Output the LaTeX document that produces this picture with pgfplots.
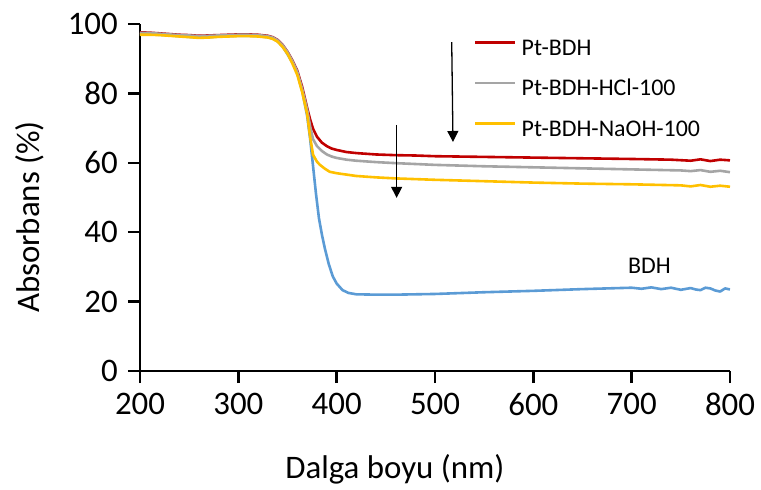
\documentclass[border=0pt]{standalone}
\usepackage{fontspec}
\setmainfont{Carlito}
\usepackage{pgfplots}
\pgfplotsset{compat=1.18}
\usetikzlibrary{arrows.meta}
\definecolor{cred}{HTML}{C00000}
\definecolor{cgray}{HTML}{A5A5A5}
\definecolor{cyel}{HTML}{FFC000}
\definecolor{cblue}{HTML}{5B9BD5}
\begin{document}
\begin{tikzpicture}
\begin{axis}[name=ax, at={(0,0)}, anchor=south west,
  scale only axis, width=590bp, height=347bp,
  xmin=200, xmax=800, ymin=0, ymax=100,
  xtick={200,300,...,800}, ytick={0,20,...,100},
  axis x line*=bottom, axis y line*=left,
  axis line style={line width=2.5bp, black},
  tick style={line width=2.5bp, black},
  major tick length=12bp, tick align=outside,
  /pgf/number format/assume math mode=true,
  tick label style={font=\fontsize{33}{40}\selectfont},
  xticklabel style={inner sep=0pt, anchor=north, yshift=-10bp},
  yticklabel style={inner sep=0pt, anchor=east, xshift=-10bp},
  xlabel={Dalga boyu (nm)}, ylabel={Absorbans (\%)},
  label style={font=\fontsize{33}{40}\selectfont},
  xlabel style={at={(axis description cs:0.432,-0.311)}, anchor=base, inner sep=0pt},
  ylabel style={at={(axis description cs:-0.17,0.444)}, anchor=base, inner sep=0pt},
  legend style={at={(axis description cs:0.566,0.957)}, anchor=north west,
    draw=none, fill=none, inner sep=0pt, row sep=19.5bp, column sep=5bp,
    font=\fontsize{24}{28}\selectfont,
    nodes={inner sep=0pt, text height=16bp, text depth=5bp}},
  legend image code/.code={\draw[#1] (0bp,7bp) -- (40bp,7bp);},
  legend cell align=left,
  every axis plot/.append style={line width=2.6bp, line join=round},
]
% BDH (drawn first, underneath)
\addplot[cblue, forget plot] coordinates {
(200,97.0)(210,97.0)(220,96.9)(230,96.7)(240,96.5)(250,96.3)(260,96.1)(270,96.2)(280,96.4)(290,96.5)(300,96.6)(310,96.6)(320,96.5)(330,96.2)(335,95.8)(340,95.0)(345,93.5)(350,91.3)(355,88.9)(360,85.8)(365,80.6)(370,73.5)(373,67.0)(376,59.0)(379,51.0)(382,44.0)(385,39.3)(388,35.3)(392,30.8)(396,27.3)(400,25.2)(406,23.3)(412,22.5)(420,22.1)(440,22.0)(460,22.0)(500,22.2)(550,22.7)(600,23.1)(650,23.6)(700,24.0)(710,23.7)(720,24.1)(730,23.6)(740,24.0)(750,23.4)(760,23.9)(765,23.5)(770,23.3)(775,24.0)(780,23.8)(785,23.2)(790,22.9)(795,23.8)(800,23.5)};
% Pt-BDH
\addplot[cred] coordinates {
(200,97.6)(210,97.5)(220,97.3)(230,97.1)(240,96.9)(250,96.8)(260,96.6)(270,96.7)(280,96.8)(290,96.9)(300,97.0)(310,97.0)(320,96.9)(330,96.6)(335,96.2)(340,95.4)(345,94.0)(350,92.0)(355,89.5)(360,86.5)(365,81.8)(370,75.8)(373,72.5)(376,69.8)(380,67.5)(385,65.8)(390,64.8)(395,64.1)(400,63.7)(410,63.1)(420,62.8)(440,62.4)(460,62.2)(480,62.1)(500,61.9)(550,61.7)(600,61.5)(650,61.3)(700,61.1)(720,61.0)(740,60.9)(760,60.6)(770,61.0)(780,60.5)(790,60.9)(800,60.7)};
% Pt-BDH-HCl-100
\addplot[cgray] coordinates {
(200,97.4)(210,97.4)(220,97.2)(230,97.0)(240,96.8)(250,96.7)(260,96.5)(270,96.6)(280,96.7)(290,96.8)(300,96.9)(310,96.9)(320,96.8)(330,96.5)(335,96.1)(340,95.3)(345,93.9)(350,91.9)(355,89.3)(360,86.2)(365,81.2)(370,75.3)(373,70.5)(376,66.8)(380,64.8)(385,63.4)(390,62.4)(395,61.8)(400,61.4)(410,60.9)(420,60.6)(440,60.2)(460,59.9)(500,59.4)(550,59.0)(600,58.7)(650,58.4)(700,58.1)(750,57.8)(760,57.6)(770,57.9)(780,57.4)(790,57.7)(800,57.3)};
% Pt-BDH-NaOH-100
\addplot[cyel] coordinates {
(200,96.9)(210,96.9)(220,96.8)(230,96.6)(240,96.4)(250,96.2)(260,96.0)(270,96.1)(280,96.3)(290,96.4)(300,96.5)(310,96.5)(320,96.4)(330,96.1)(335,95.7)(340,94.9)(345,93.4)(350,91.4)(355,88.6)(360,85.3)(365,80.3)(370,74.0)(373,67.5)(376,62.3)(380,60.3)(383,59.4)(388,58.3)(393,57.4)(400,57.0)(410,56.6)(420,56.2)(440,55.8)(460,55.5)(500,55.1)(550,54.7)(600,54.3)(650,54.0)(700,53.8)(750,53.5)(760,53.2)(770,53.6)(780,53.1)(790,53.4)(800,53.1)};
\legend{Pt-BDH, Pt-BDH-HCl-100, Pt-BDH-NaOH-100}
\draw[line width=1.3bp, -{Triangle[width=11bp,length=11bp]}] (axis cs:517,94.8) -- (axis cs:518.3,66);
\draw[line width=1.3bp, -{Triangle[width=11bp,length=11bp]}] (axis cs:461,70.9) -- (axis cs:461,49.9);
\node[font=\fontsize{24}{28}\selectfont, inner sep=0pt] at (axis cs:718,30.3) {BDH};
\end{axis}
\pgfresetboundingbox
\path[use as bounding box] ([shift={(-140bp,-119bp)}]ax.south west) rectangle ([shift={(31bp,24bp)}]ax.north east);
\end{tikzpicture}
\end{document}
